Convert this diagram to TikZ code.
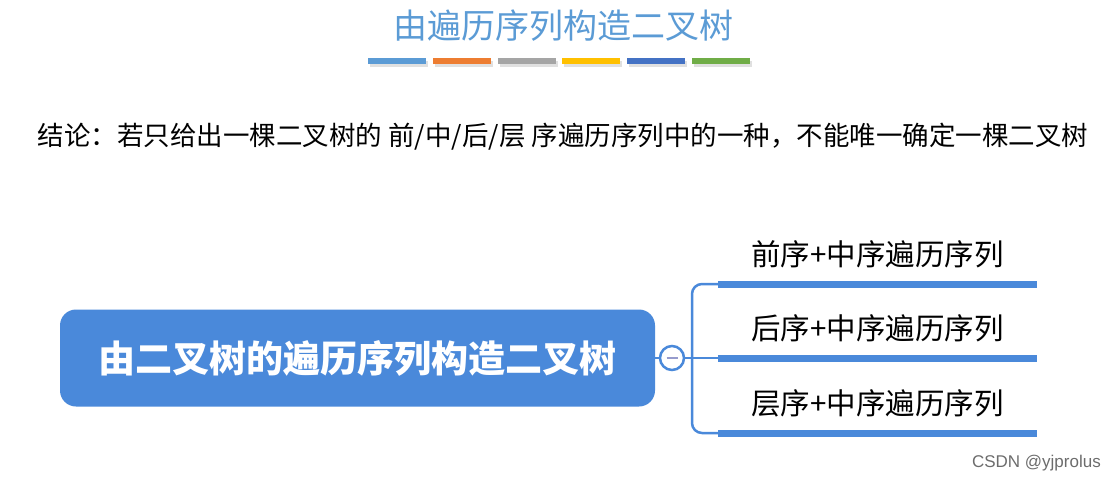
\documentclass[tikz,border=0pt]{standalone}
\usepackage{fontspec}
\newfontfamily\cjk{Noto Sans CJK SC}
\setsansfont{Liberation Sans}
\usetikzlibrary{positioning}
\definecolor{mapblue}{RGB}{74,137,218}
\definecolor{titleblue}{RGB}{91,155,213}
\definecolor{barorange}{RGB}{237,125,49}
\definecolor{bargray}{RGB}{165,165,165}
\definecolor{baryellow}{RGB}{255,192,0}
\definecolor{barblue}{RGB}{68,114,196}
\definecolor{bargreen}{RGB}{112,173,71}
\definecolor{minusgray}{RGB}{150,155,205}

\begin{document}
\begin{tikzpicture}[x=1pt, y=-1pt, node distance=6pt and 20pt]
    \tikzstyle{heading} = [font=\cjk\fontsize{34}{40}\selectfont, text=titleblue, inner sep=0pt]
    \tikzstyle{colorbar} = [rectangle, minimum width=58pt, minimum height=6pt, inner sep=0pt]
    \tikzstyle{remark} = [font=\cjk\fontsize{26.5}{30}\selectfont, inner sep=0pt]
    \tikzstyle{rootnode} = [rectangle, rounded corners=16pt, minimum width=595pt, minimum height=97pt, fill=mapblue, text=white, font=\cjk\bfseries\fontsize{37}{42}\selectfont]
    \tikzstyle{toggle} = [circle, draw=mapblue, line width=2.5pt, fill=white, minimum size=24pt, inner sep=0pt]
    \tikzstyle{branchbar} = [rectangle, fill=mapblue, minimum width=319pt, minimum height=7pt, inner sep=0pt]
    \tikzstyle{branchtext} = [font=\cjk\fontsize{29.5}{34}\selectfont, inner sep=0pt]
    \tikzstyle{link} = [draw=mapblue, line width=2.5pt, rounded corners=10pt]

    \useasboundingbox (0,0) rectangle (1117,483);

    % Title
    \node (title) [heading] at (563,26) {由遍历序列构造二叉树};
    \foreach \c [count=\i] in {titleblue, barorange, bargray, baryellow, barblue, bargreen} {
        \fill[black!12] (368+64.8*\i-64.8+2, 58+3) rectangle ++(58,6);
        \node (cbar\i) [colorbar, fill=\c] at (397+64.8*\i-64.8, 61) {};
    }

    % Conclusion
    \node (remark) [remark] at (563,137) {结论：若只给出一棵二叉树的 前/中/后/层 序遍历序列中的一种，不能唯一确定一棵二叉树};

    % Mind map
    \node (root) [rootnode] at (357.5,358) {由二叉树的遍历序列构造二叉树};
    \node (fold) [toggle] at (672,358) {};
    \draw[minusgray, line width=2pt] ([xshift=-5.5pt]fold.center) -- ([xshift=5.5pt]fold.center);
    \coordinate (split) at (692,358);

    \node (barA) [branchbar] at (877.5,284) {};
    \node (barB) [branchbar] at (877.5,358) {};
    \node (barC) [branchbar] at (877.5,433) {};
    \node (preIn) [branchtext, above=12pt of barA] {前序+中序遍历序列};
    \node (postIn) [branchtext, above=12pt of barB] {后序+中序遍历序列};
    \node (levelIn) [branchtext, above=12pt of barC] {层序+中序遍历序列};

    \draw[link] (root.east) -- (fold.west);
    \draw[link] (fold.east) -- (barB.west);
    \draw[link] (split) |- (barA.west);
    \draw[link] (split) |- (barC.west);

    % Watermark
    \node (mark) [font=\sffamily\fontsize{17}{20}\selectfont, text=gray!85!black, anchor=east, inner sep=0pt] at (1101,463) {CSDN @yjprolus};
\end{tikzpicture}
\end{document}
